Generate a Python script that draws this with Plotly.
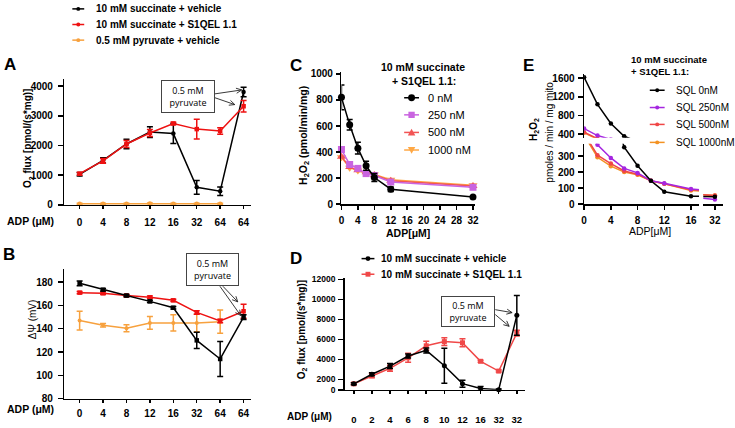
import math
import plotly.graph_objects as go

W, H = 735, 428
FONT = "Liberation Sans, Arial, Helvetica, sans-serif"


def fx(p):
    return p / W


def fy(p):
    return 1 - p / H


# ---------------- data ----------------
# Panel A: O2 flux [pmol/(s*mg)]
a_adp = ["0", "4", "8", "12", "16", "32", "64", "64"]
a_veh = [1030, 1500, 2050, 2450, 2400, 590, 460, 3800]
a_veh_err = [60, 90, 160, 180, 330, 230, 140, 160]
a_s1q = [1050, 1480, 2050, 2420, 2740, 2550, 2490, 3320]
a_s1q_err = [40, 80, 120, 120, 40, 330, 110, 190]
a_pyr = [40, 40, 40, 50, 40, 40, 40]
a_pyr_err = [15, 15, 15, 15, 15, 15, 15]

# Panel B: membrane potential (mV)
b_adp = ["0", "4", "8", "12", "16", "32", "64", "64"]
b_veh = [179, 173.5, 168.5, 163.5, 158, 130, 114, 150]
b_veh_err = [2, 1, 1, 1, 1, 7, 15, 2]
b_s1q = [171, 170.5, 168.5, 167, 164.4, 154, 146.7, 155]
b_s1q_err = [1, 1, 1, 1, 1, 1.5, 1.5, 6]
b_pyr = [147, 143, 140.5, 145, 145, 145, 146]
b_pyr_err = [8, 1.5, 3, 5.5, 7, 7.5, 10]

# Panel C: H2O2 (pmol/min/mg)
c_adp = [0, 2, 4, 6, 8, 12, 32]
c_0 = [820, 610, 430, 295, 205, 115, 55]
c_0_err = [95, 40, 45, 35, 30, 18, 5]
c_250 = [420, 305, 275, 235, 220, 170, 130]
c_250_err = [20, 12, 12, 10, 10, 12, 15]
c_500 = [365, 285, 260, 245, 225, 180, 140]
c_1000 = [360, 280, 258, 240, 228, 188, 145]

# Panel D: O2 flux
d_adp = ["0", "2", "4", "6", "8", "10", "12", "16", "32", "32"]
d_veh = [1540, 2500, 3320, 4330, 4890, 3350, 1560, 1080, 960, 8400]
d_veh_err = [100, 150, 250, 200, 250, 1750, 350, 200, 60, 2000]
d_s1q = [1540, 2360, 3100, 4150, 5350, 5770, 5650, 3800, 2820, 6620]
d_s1q_err = [100, 200, 300, 450, 450, 400, 400, 100, 100, 280]

# Panel E: H2O2 pmoles/min/mg mito
e_adp = [0, 2, 4, 6, 8, 10, 12, 16, 32]
e_0 = [1620, 1040, 630, 355, 240, 146, 78, 50, 47]
e_250 = [520, 370, 288, 223, 195, 146, 130, 95, 30]
e_500 = [440, 305, 253, 207, 187, 146, 128, 90, 55]
e_1000 = [430, 292, 237, 200, 183, 146, 127, 85, 55]

BLACK = "#000000"
RED = "#ee1111"
ORANGE = "#f7a13e"
C_PURPLE = "#c964e0"
C_RED = "#f25555"
C_ORANGE = "#ffa845"
D_RED = "#f04848"
E_PURPLE = "#a526e0"
E_RED = "#f04646"
E_ORANGE = "#f39222"

fig = go.Figure()


def add(xa, ya, x, y, color, err=None, symbol="circle", size=5, width=1.5, clip=True):
    fig.add_trace(go.Scatter(
        x=x, y=y, xaxis=xa, yaxis=ya, mode="lines+markers",
        line=dict(color=color, width=width),
        marker=dict(color=color, size=size, symbol=symbol, line=dict(width=0)),
        error_y=dict(type="data", array=err if err is not None else [0] * len(y),
                     color=color, thickness=1.5, width=3, visible=err is not None),
        showlegend=False, cliponaxis=clip, hoverinfo="x+y"))


idx_a = list(range(len(a_adp)))
idx_d = list(range(len(d_adp)))

# A
add("x", "y", idx_a[:len(a_pyr)], a_pyr, ORANGE, a_pyr_err, size=4.5, clip=False)
add("x", "y", idx_a, a_veh, BLACK, a_veh_err, size=4.5, clip=False)
add("x", "y", idx_a, a_s1q, RED, a_s1q_err, symbol="square", size=4.5, clip=False)
# B
add("x2", "y2", idx_a[:len(b_pyr)], b_pyr, ORANGE, b_pyr_err, size=4, clip=False)
add("x2", "y2", idx_a, b_s1q, RED, b_s1q_err, symbol="square", size=4.5, clip=False)
add("x2", "y2", idx_a, b_veh, BLACK, b_veh_err, symbol="square", size=4.5, clip=False)
# C
add("x3", "y3", c_adp, c_1000, C_ORANGE, None, symbol="triangle-down", size=8, clip=False)
add("x3", "y3", c_adp, c_500, C_RED, None, symbol="triangle-up", size=8, clip=False)
add("x3", "y3", c_adp, c_250, C_PURPLE, c_250_err, symbol="square", size=7, clip=False)
add("x3", "y3", c_adp, c_0, BLACK, c_0_err, symbol="circle", size=7, clip=False)
# D
add("x4", "y4", idx_d, d_s1q, D_RED, d_s1q_err, symbol="square", size=5, clip=False)
add("x4", "y4", idx_d, d_veh, BLACK, d_veh_err, symbol="circle", size=5, clip=False)
# E (broken axes: upper, lower-left, lower-right)
for xa, ya in (("x5", "y5"), ("x6", "y6"), ("x7", "y7")):
    add(xa, ya, e_adp, e_1000, E_ORANGE, None, size=4.5)
    add(xa, ya, e_adp, e_500, E_RED, None, size=4.5)
    add(xa, ya, e_adp, e_250, E_PURPLE, None, size=4.5)
    add(xa, ya, e_adp, e_0, BLACK, None, size=4.5)


def ax(domain, rng, **kw):
    d = dict(domain=domain, range=rng, showline=True, linecolor="black", linewidth=1.5,
             showgrid=False, zeroline=False, ticks="outside", ticklen=5, tickwidth=1.5,
             tickcolor="black", fixedrange=True,
             tickfont=dict(family=FONT, size=10, color="black", weight="bold"))
    d.update(kw)
    return d


layout = dict(
    width=W, height=H, margin=dict(l=0, r=0, t=0, b=0),
    paper_bgcolor="white", plot_bgcolor="rgba(0,0,0,0)", showlegend=False,
    font=dict(family=FONT, color="black"),
    # A
    xaxis=ax([fx(62), fx(250)], [-0.65, 7.3], anchor="y", tickvals=idx_a, ticktext=a_adp,
             ticklen=3, ticklabelstandoff=5),
    yaxis=ax([fy(205.7), fy(77)], [0, 4230], anchor="x", tickvals=[0, 1000, 2000, 3000, 4000],
             ticklabelstandoff=3),
    # B
    xaxis2=ax([fx(62), fx(250)], [-0.65, 7.3], anchor="y2", tickvals=idx_a, ticktext=b_adp,
              ticklen=3, ticklabelstandoff=2),
    yaxis2=ax([fy(404), fy(271.7)], [80, 191], anchor="x2", tickvals=[80, 100, 120, 140, 160, 180],
              ticklabelstandoff=3),
    # C
    xaxis3=ax([fx(341.7), fx(477)], [0, 32.6], anchor="y3", tickvals=list(range(0, 33, 4)),
              ticklen=4, ticklabelstandoff=2),
    yaxis3=ax([fy(205), fy(70)], [0, 1012], anchor="x3", tickvals=[0, 200, 400, 600, 800, 1000],
              ticklen=4, ticklabelstandoff=1),
    # D
    xaxis4=ax([fx(345), fx(527)], [-0.5, 9.45], anchor="y4", tickvals=idx_d, ticktext=d_adp,
              ticklen=3, ticklabelstandoff=17,
              tickfont=dict(family=FONT, size=9.5, color="black", weight="bold")),
    yaxis4=ax([fy(395), fy(281)], [947, 12100], anchor="x4",
              tickvals=[947, 2000, 4000, 6000, 8000, 10000, 12000],
              ticktext=["0", "2000", "4000", "6000", "8000", "10000", "12000"],
              ticklabelstandoff=1, tickfont=dict(family=FONT, size=8.5, color="black", weight="bold")),
    # E upper
    xaxis5=ax([fx(586.7), fx(702.7)], [0, 17.2], anchor="y5", visible=False),
    yaxis5=ax([fy(137), fy(72)], [322, 1684], anchor="x5", tickvals=[400, 800, 1200, 1600],
              ticklabelstandoff=1),
    # E lower-left
    xaxis6=ax([fx(586.7), fx(702.7)], [0, 17.2], anchor="y6", tickvals=[0, 4, 8, 12, 16],
              ticklen=4, ticklabelstandoff=2),
    yaxis6=ax([fy(205), fy(143)], [0, 377], anchor="x6", tickvals=[0, 100, 200, 300],
              ticklabelstandoff=1),
    # E lower-right
    xaxis7=ax([fx(707), fx(727)], [30.3, 33.2], anchor="y7", tickvals=[32],
              ticklen=4, ticklabelstandoff=2),
    yaxis7=ax([fy(205), fy(143)], [0, 377], anchor="x7", visible=False),
)

ann = []
shapes = []


def text(x, y, s, size, bold=False, xanchor="center", yanchor="middle", angle=0, family=FONT):
    ann.append(dict(x=fx(x), y=fy(y), xref="paper", yref="paper",
                    text=("<b>%s</b>" % s) if bold else s, showarrow=False,
                    xanchor=xanchor, yanchor=yanchor, textangle=angle,
                    font=dict(size=size, family=family, color="black")))


def box(cx, cy, w, h):
    ann.append(dict(x=fx(cx), y=fy(cy), xref="paper", yref="paper", text="0.5 mM<br>pyruvate",
                    showarrow=False, width=w, height=h, bordercolor="#444444", borderwidth=1,
                    borderpad=0, bgcolor="white", xanchor="center", yanchor="middle",
                    font=dict(size=9, family="Open Sans, " + FONT, color="black")))


def arrow(tx, ty, hx, hy, hl=5.5, hw=2.6):
    col = "#222222"
    shapes.append(dict(type="line", xref="paper", yref="paper", x0=fx(tx), y0=fy(ty),
                       x1=fx(hx), y1=fy(hy), line=dict(color=col, width=0.9)))
    dx, dy = hx - tx, hy - ty
    n = math.hypot(dx, dy)
    ux, uy = dx / n, dy / n
    bx, by = hx - ux * hl, hy - uy * hl
    px_, py_ = -uy, ux
    p = "M %f,%f L %f,%f L %f,%f" % (fx(bx + px_ * hw), fy(by + py_ * hw), fx(hx), fy(hy),
                                     fx(bx - px_ * hw), fy(by - py_ * hw))
    shapes.append(dict(type="path", xref="paper", yref="paper", path=p,
                       line=dict(color=col, width=0.9)))


def key(x0, x1, y, color, symbol, r, tx, label, size, bold):
    shapes.append(dict(type="line", xref="paper", yref="paper", x0=fx(x0), x1=fx(x1),
                       y0=fy(y), y1=fy(y), line=dict(color=color, width=1.5)))
    cx = (x0 + x1) / 2
    if symbol == "circle":
        shapes.append(dict(type="circle", xref="paper", yref="paper", x0=fx(cx - r), x1=fx(cx + r),
                           y0=fy(y + r), y1=fy(y - r), fillcolor=color, line=dict(width=0)))
    elif symbol == "square":
        shapes.append(dict(type="rect", xref="paper", yref="paper", x0=fx(cx - r), x1=fx(cx + r),
                           y0=fy(y + r), y1=fy(y - r), fillcolor=color, line=dict(width=0)))
    elif symbol == "tri-up":
        p = "M %f,%f L %f,%f L %f,%f Z" % (fx(cx - r), fy(y + r * 0.8), fx(cx + r), fy(y + r * 0.8),
                                           fx(cx), fy(y - r))
        shapes.append(dict(type="path", xref="paper", yref="paper", path=p, fillcolor=color,
                           line=dict(width=0)))
    elif symbol == "tri-down":
        p = "M %f,%f L %f,%f L %f,%f Z" % (fx(cx - r), fy(y - r * 0.8), fx(cx + r), fy(y - r * 0.8),
                                           fx(cx), fy(y + r))
        shapes.append(dict(type="path", xref="paper", yref="paper", path=p, fillcolor=color,
                           line=dict(width=0)))
    text(tx, y, label, size, bold=bold, xanchor="left")


# Legend A (top)
key(70, 82, 5, BLACK, "circle", 2, 92, "10 mM succinate + vehicle", 10, True)
key(70, 82, 21, RED, "circle", 2, 92, "10 mM succinate + S1QEL 1.1", 10, True)
key(70, 82, 37, ORANGE, "circle", 2, 92, "0.5 mM pyruvate + vehicle", 10, True)

# Legend C
text(424, 64, "10 mM succinate", 10.5, bold=True)
text(425, 79, "+ S1QEL 1.1:", 10.5, bold=True)
key(405, 420, 96, BLACK, "circle", 3.5, 427, "0 nM", 11, False)
key(405, 420, 113.5, C_PURPLE, "square", 3.2, 427, "250 nM", 11, False)
key(405, 420, 131.5, C_RED, "tri-up", 3.8, 427, "500 nM", 11, False)
key(405, 420, 149.5, C_ORANGE, "tri-down", 3.8, 427, "1000 nM", 11, False)

# Legend D
key(362, 375, 260.7, BLACK, "circle", 2.5, 380, "10 mM succinate + vehicle", 10, True)
key(362, 375, 276.7, D_RED, "square", 2.5, 380, "10 mM succinate + S1QEL 1.1", 10, True)

# Legend E
text(632, 57.3, "10 mM succinate", 9.5, bold=True, xanchor="left")
text(632, 69.3, "+ S1QEL 1.1:", 9.5, bold=True, xanchor="left")
key(653, 668, 88.3, BLACK, "circle", 2, 677, "SQL 0nM", 10, False)
key(653, 668, 106, E_PURPLE, "circle", 2, 677, "SQL 250nM", 10, False)
key(653, 668, 123.3, E_RED, "circle", 2, 677, "SQL 500nM", 10, False)
key(653, 668, 141.7, E_ORANGE, "circle", 2, 677, "SQL 1000nM", 10, False)

# Panel letters
text(7, 62, "A", 17, bold=True)
text(6, 257, "B", 17, bold=True)
text(296, 63, "C", 17, bold=True)
text(296, 261, "D", 17, bold=True)
text(531, 62.5, "E", 17, bold=True)

# Axis titles
text(25.5, 138, "O<sub>2</sub> flux [pmol/(s*mg)]", 10, bold=True, angle=-90)
text(2, 222, "ADP (\u03bcM)", 10.5, bold=True, xanchor="left")
text(30, 323, "\u0394\u03a8 (mV)", 10, angle=-90)
text(2, 415, "ADP (\u03bcM)", 10.5, bold=True, xanchor="left")
text(304, 135, "H<sub>2</sub>O<sub>2</sub> (pmol/min/mg)", 10.5, bold=True, angle=-90)
text(409, 234, "ADP[\u03bcM]", 10.5, bold=True)
text(302, 334, "O<sub>2</sub> flux [pmol/(s*mg)]", 10, bold=True, angle=-90)
text(285, 422, "ADP (\u03bcM)", 10, bold=True, xanchor="left")
text(536, 128, "H<sub>2</sub>O<sub>2</sub>", 10, bold=True, angle=-90)
text(552, 131, "pmoles / min / mg mito", 10, angle=-90)
text(653, 232, "ADP[\u03bcM]", 10.5)

# Pyruvate boxes and arrows
box(187, 94.5, 52, 31)
arrow(214, 92, 241, 88)
arrow(214, 96, 234, 103)
box(211.5, 271.5, 51, 31)
arrow(222, 289, 237, 305)
arrow(219, 289, 240, 319)
box(469.7, 315.3, 52, 29)
arrow(497, 313, 514, 316)
arrow(497, 318, 511, 330)

layout["annotations"] = ann
layout["shapes"] = shapes
fig.update_layout(**layout)
fig.write_html("out.html", config={"displayModeBar": False, "staticPlot": True},
               post_script="document.body.style.margin='0';document.body.style.padding='0';")
